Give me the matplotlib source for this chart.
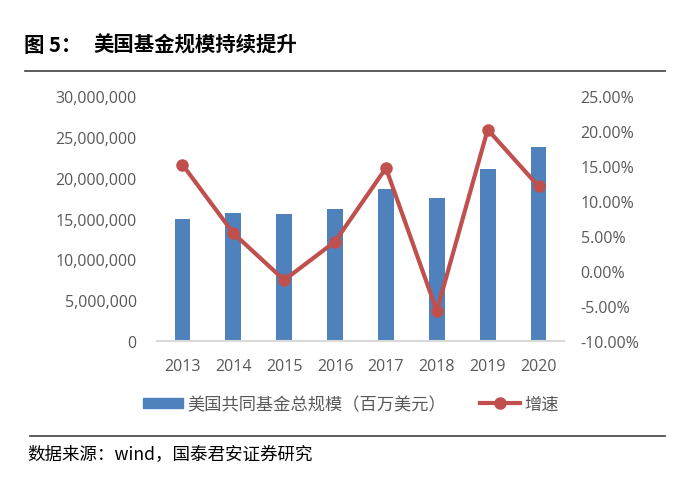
import matplotlib
matplotlib.use("Agg")
import matplotlib.pyplot as plt
from matplotlib.ticker import FuncFormatter
from matplotlib.lines import Line2D
from matplotlib.patches import Patch

plt.rcParams['font.family'] = ['Open Sans', 'Noto Sans CJK SC', 'DejaVu Sans']

years = ['2013', '2014', '2015', '2016', '2017', '2018', '2019', '2020']
fund_size = [14900000, 15700000, 15500000, 16200000, 18600000, 17500000, 21100000, 23700000]
growth = [15.2, 5.4, -1.3, 4.2, 14.7, -5.7, 20.2, 12.1]

bar_color = '#4F81BD'
line_color = '#C0504D'
text_gray = '#595959'
cjk = ['Noto Sans CJK SC', 'DejaVu Sans']

W, H = 700, 485
fig = plt.figure(figsize=(7, 4.85), dpi=100)

# plot area in pixel coords of the reference
x0, x1, y_top, y_bot = 157, 564, 97, 342
ax = fig.add_axes([x0 / W, 1 - y_bot / H, (x1 - x0) / W, (y_bot - y_top) / H])
x = list(range(len(years)))
ax.bar(x, fund_size, width=0.31, color=bar_color, zorder=2)
ax.set_xlim(-0.5, len(years) - 0.5)
ax.set_ylim(0, 30000000)
ax.set_yticks(range(0, 30000001, 5000000))
ax.yaxis.set_major_formatter(FuncFormatter(lambda v, p: f"{int(v):,}"))
ax.set_xticks(x)
ax.set_xticklabels(years)
for s in ['top', 'left', 'right']:
    ax.spines[s].set_visible(False)
ax.spines['bottom'].set_color('#D9D9D9')
ax.spines['bottom'].set_linewidth(1.5)
ax.tick_params(axis='both', length=0, labelsize=11.5, colors=text_gray)
ax.tick_params(axis='y', pad=14.5)
ax.tick_params(axis='x', pad=12)

ax2 = ax.twinx()
ax2.plot(x, growth, color=line_color, lw=3, marker='o', ms=8, zorder=3)
ax2.set_ylim(-10, 25)
ax2.set_yticks(range(-10, 26, 5))
ax2.yaxis.set_major_formatter(FuncFormatter(lambda v, p: f"{v:.2f}%"))
for s in ['top', 'left', 'right', 'bottom']:
    ax2.spines[s].set_visible(False)
ax2.tick_params(axis='y', length=0, labelsize=11.5, colors=text_gray, pad=12)

handles = [Patch(color=bar_color),
           Line2D([0], [0], color=line_color, lw=3, marker='o', ms=8)]
fig.legend(handles, ['美国共同基金总规模（百万美元）', '增速'],
           loc='center', bbox_to_anchor=(351 / W, 1 - 405 / H), ncol=2,
           frameon=False, fontsize=12.4, labelcolor=text_gray,
           prop={'family': cjk, 'size': 12.4},
           handlelength=2.3, handleheight=0.55, handletextpad=0.25,
           columnspacing=2.0)

# title, rules and source
fig.text(24 / W, 1 - 45 / H, '图 5：', fontsize=14.7, fontweight='bold',
         va='center', ha='left', family=cjk)
fig.text(93 / W, 1 - 45 / H, '美国基金规模持续提升', fontsize=14.7,
         fontweight='bold', va='center', ha='left', family=cjk)
fig.add_artist(Line2D([25 / W, 665 / W], [1 - 72 / H, 1 - 72 / H],
                      color='#404040', lw=1.2))
fig.add_artist(Line2D([30 / W, 665 / W], [1 - 437 / H, 1 - 437 / H],
                      color='#404040', lw=1.2))
fig.text(27 / W, 1 - 455 / H, '数据来源：wind，国泰君安证券研究', fontsize=12.6,
         va='center', ha='left', color='black', family=cjk)

fig.savefig('out.png', dpi=100)
